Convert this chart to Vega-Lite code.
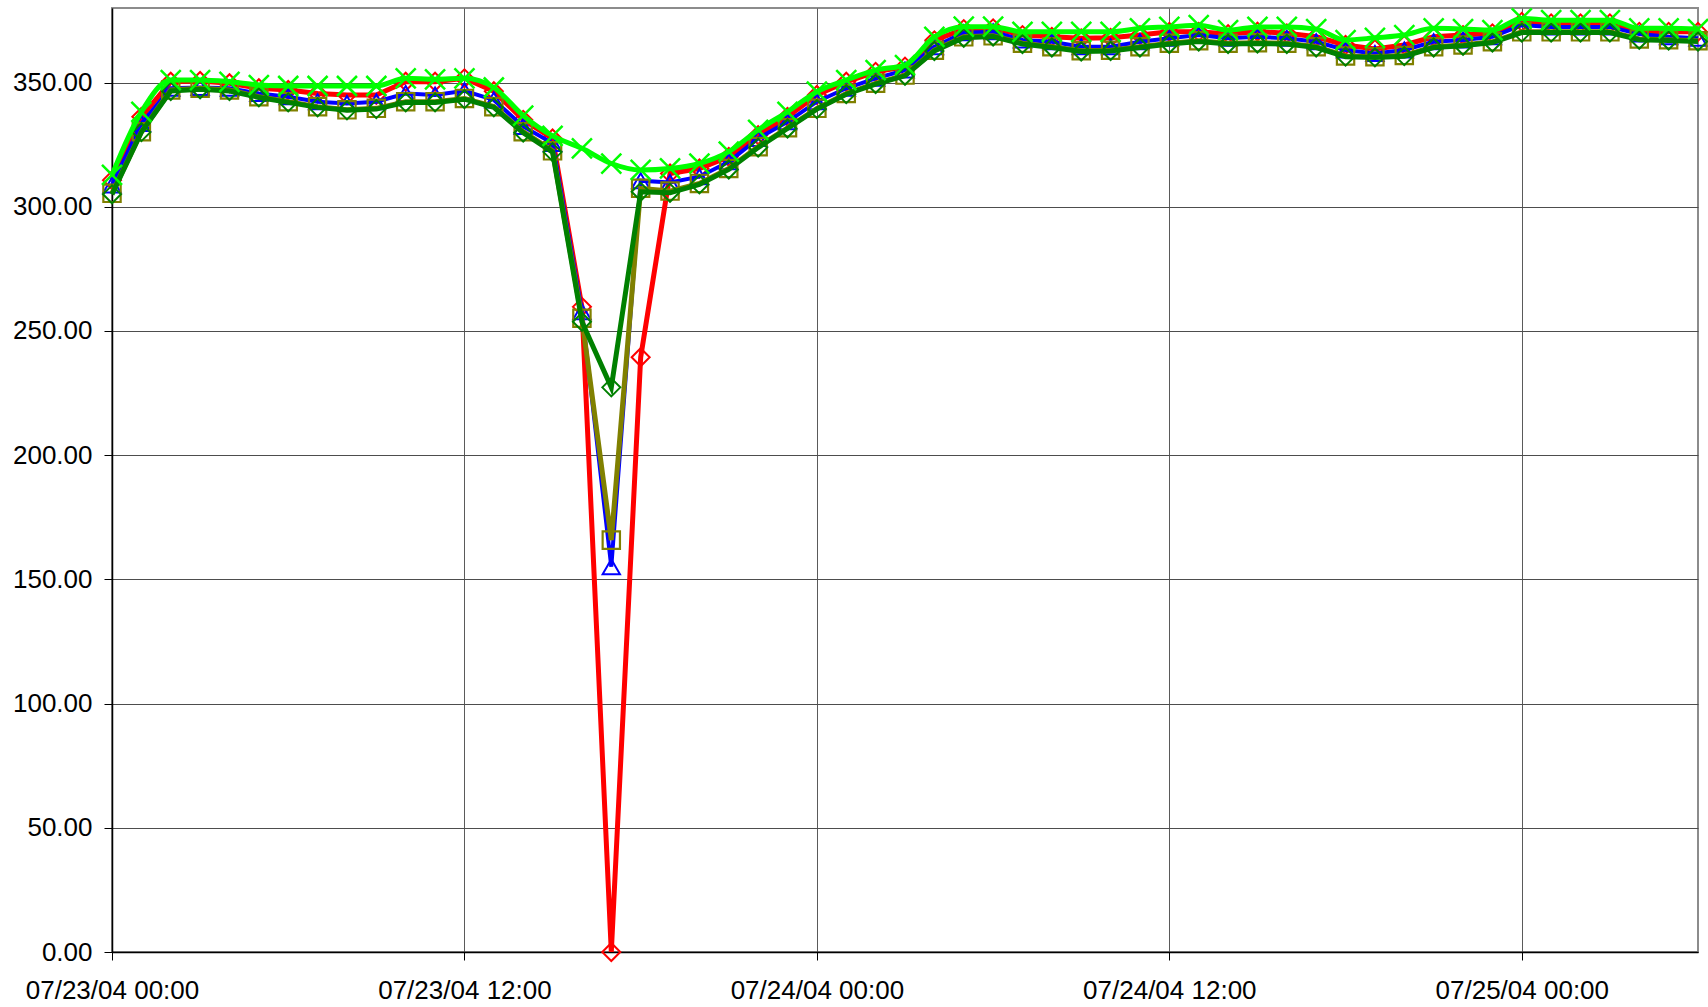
{
  "$schema": "https://vega.github.io/schema/vega-lite/v6.json",
  "width": 1586,
  "height": 944,
  "autosize": {"type": "none"},
  "padding": {"left": 112, "top": 8, "right": 10, "bottom": 55},
  "background": "white",
  "config": {
    "view": {"stroke": "#8c8c8c", "strokeWidth": 2},
    "axis": {
      "labelFont": "Liberation Sans",
      "labelFontSize": 26,
      "labelColor": "black",
      "tickColor": "black",
      "tickSize": 8,
      "domainColor": "black",
      "domainWidth": 1.5,
      "grid": true,
      "gridColor": "#4d4d4d",
      "gridWidth": 1,
      "title": null
    }
  },
  "data": {
    "values": [
      {"t": "2004-07-23T00:00:00", "G": 312.8, "R": 310.7, "B": 308.7, "O": 305.4, "D": 305.0},
      {"t": "2004-07-23T01:00:00", "G": 338.2, "R": 336.2, "B": 333.5, "O": 330.2, "D": 330.0},
      {"t": "2004-07-23T02:00:00", "G": 351.0, "R": 350.3, "B": 347.7, "O": 347.0, "D": 346.6},
      {"t": "2004-07-23T03:00:00", "G": 351.0, "R": 350.6, "B": 348.0, "O": 347.7, "D": 347.3},
      {"t": "2004-07-23T04:00:00", "G": 350.3, "R": 349.7, "B": 347.7, "O": 347.0, "D": 346.6},
      {"t": "2004-07-23T05:00:00", "G": 349.0, "R": 347.7, "B": 345.6, "O": 344.3, "D": 344.0},
      {"t": "2004-07-23T06:00:00", "G": 348.6, "R": 347.0, "B": 344.3, "O": 342.3, "D": 342.0},
      {"t": "2004-07-23T07:00:00", "G": 348.6, "R": 345.6, "B": 342.3, "O": 340.3, "D": 340.0},
      {"t": "2004-07-23T08:00:00", "G": 348.6, "R": 345.0, "B": 341.6, "O": 339.0, "D": 338.8},
      {"t": "2004-07-23T09:00:00", "G": 348.6, "R": 345.0, "B": 342.3, "O": 339.6, "D": 339.3},
      {"t": "2004-07-23T10:00:00", "G": 351.7, "R": 350.3, "B": 345.6, "O": 342.3, "D": 342.0},
      {"t": "2004-07-23T11:00:00", "G": 351.3, "R": 350.3, "B": 345.0, "O": 342.3, "D": 342.0},
      {"t": "2004-07-23T12:00:00", "G": 351.7, "R": 351.7, "B": 346.7, "O": 343.6, "D": 343.3},
      {"t": "2004-07-23T13:00:00", "G": 348.0, "R": 346.5, "B": 343.0, "O": 340.3, "D": 340.0},
      {"t": "2004-07-23T14:00:00", "G": 336.7, "R": 335.0, "B": 332.3, "O": 330.2, "D": 329.8},
      {"t": "2004-07-23T15:00:00", "G": 328.5, "R": 327.5, "B": 325.5, "O": 322.5, "D": 322.0},
      {"t": "2004-07-23T16:00:00", "G": 323.5, "R": 259.7, "B": 257.7, "O": 255.1, "D": 253.7},
      {"t": "2004-07-23T17:00:00", "G": 317.4, "R": 0.0, "B": 155.1, "O": 165.8, "D": 227.3},
      {"t": "2004-07-23T18:00:00", "G": 314.8, "R": 239.4, "B": 310.5, "O": 307.4, "D": 306.0},
      {"t": "2004-07-23T19:00:00", "G": 315.4, "R": 313.4, "B": 309.8, "O": 306.3, "D": 305.6},
      {"t": "2004-07-23T20:00:00", "G": 317.4, "R": 315.4, "B": 312.1, "O": 309.4, "D": 309.0},
      {"t": "2004-07-23T21:00:00", "G": 322.2, "R": 320.1, "B": 318.1, "O": 315.4, "D": 315.0},
      {"t": "2004-07-23T22:00:00", "G": 330.9, "R": 328.8, "B": 327.5, "O": 324.2, "D": 323.8},
      {"t": "2004-07-23T23:00:00", "G": 338.2, "R": 336.2, "B": 334.2, "O": 331.8, "D": 331.5},
      {"t": "2004-07-24T00:00:00", "G": 346.3, "R": 345.0, "B": 342.3, "O": 339.6, "D": 339.3},
      {"t": "2004-07-24T01:00:00", "G": 351.0, "R": 350.3, "B": 347.7, "O": 345.6, "D": 345.3},
      {"t": "2004-07-24T02:00:00", "G": 355.0, "R": 354.3, "B": 351.7, "O": 349.7, "D": 349.4},
      {"t": "2004-07-24T03:00:00", "G": 357.0, "R": 356.4, "B": 355.0, "O": 353.0, "D": 352.7},
      {"t": "2004-07-24T04:00:00", "G": 368.4, "R": 367.0, "B": 364.4, "O": 363.0, "D": 362.7},
      {"t": "2004-07-24T05:00:00", "G": 372.5, "R": 371.5, "B": 370.0, "O": 368.4, "D": 368.0},
      {"t": "2004-07-24T06:00:00", "G": 372.5, "R": 371.8, "B": 370.4, "O": 368.8, "D": 368.5},
      {"t": "2004-07-24T07:00:00", "G": 370.4, "R": 369.1, "B": 367.1, "O": 365.8, "D": 365.5},
      {"t": "2004-07-24T08:00:00", "G": 370.4, "R": 368.4, "B": 366.4, "O": 364.4, "D": 364.1},
      {"t": "2004-07-24T09:00:00", "G": 370.4, "R": 367.8, "B": 364.4, "O": 362.8, "D": 362.5},
      {"t": "2004-07-24T10:00:00", "G": 370.4, "R": 368.0, "B": 364.4, "O": 363.0, "D": 362.7},
      {"t": "2004-07-24T11:00:00", "G": 371.8, "R": 369.1, "B": 366.4, "O": 364.4, "D": 364.1},
      {"t": "2004-07-24T12:00:00", "G": 372.4, "R": 370.4, "B": 367.8, "O": 365.8, "D": 365.5},
      {"t": "2004-07-24T13:00:00", "G": 373.1, "R": 370.4, "B": 369.1, "O": 366.8, "D": 366.5},
      {"t": "2004-07-24T14:00:00", "G": 371.1, "R": 369.5, "B": 367.8, "O": 365.8, "D": 365.5},
      {"t": "2004-07-24T15:00:00", "G": 372.4, "R": 370.5, "B": 368.4, "O": 366.0, "D": 365.7},
      {"t": "2004-07-24T16:00:00", "G": 372.4, "R": 369.8, "B": 367.8, "O": 365.8, "D": 365.5},
      {"t": "2004-07-24T17:00:00", "G": 371.5, "R": 368.4, "B": 366.4, "O": 364.4, "D": 364.1},
      {"t": "2004-07-24T18:00:00", "G": 367.1, "R": 365.1, "B": 363.1, "O": 360.7, "D": 360.4},
      {"t": "2004-07-24T19:00:00", "G": 368.0, "R": 363.5, "B": 361.7, "O": 360.4, "D": 360.1},
      {"t": "2004-07-24T20:00:00", "G": 369.1, "R": 365.1, "B": 363.1, "O": 360.9, "D": 360.6},
      {"t": "2004-07-24T21:00:00", "G": 371.8, "R": 368.4, "B": 366.4, "O": 364.4, "D": 364.1},
      {"t": "2004-07-24T22:00:00", "G": 371.5, "R": 369.1, "B": 367.1, "O": 365.1, "D": 364.8},
      {"t": "2004-07-24T23:00:00", "G": 371.1, "R": 369.8, "B": 368.4, "O": 366.4, "D": 366.1},
      {"t": "2004-07-25T00:00:00", "G": 375.8, "R": 374.4, "B": 373.1, "O": 370.4, "D": 370.1},
      {"t": "2004-07-25T01:00:00", "G": 375.1, "R": 373.8, "B": 372.4, "O": 370.4, "D": 370.1},
      {"t": "2004-07-25T02:00:00", "G": 375.1, "R": 373.8, "B": 372.4, "O": 370.4, "D": 370.1},
      {"t": "2004-07-25T03:00:00", "G": 375.1, "R": 373.8, "B": 372.4, "O": 370.4, "D": 370.1},
      {"t": "2004-07-25T04:00:00", "G": 371.8, "R": 370.4, "B": 369.5, "O": 367.5, "D": 367.2},
      {"t": "2004-07-25T05:00:00", "G": 371.8, "R": 370.4, "B": 368.4, "O": 367.2, "D": 366.9},
      {"t": "2004-07-25T06:00:00", "G": 371.5, "R": 370.4, "B": 367.8, "O": 366.8, "D": 366.5}
    ]
  },
  "encoding": {
    "x": {
      "field": "t",
      "type": "temporal",
      "scale": {
        "domain": [
          {"year": 2004, "month": 7, "date": 23, "hours": 0},
          {"year": 2004, "month": 7, "date": 25, "hours": 6}
        ],
        "nice": false
      },
      "axis": {
        "values": [
          {"year": 2004, "month": 7, "date": 23, "hours": 0},
          {"year": 2004, "month": 7, "date": 23, "hours": 12},
          {"year": 2004, "month": 7, "date": 24, "hours": 0},
          {"year": 2004, "month": 7, "date": 24, "hours": 12},
          {"year": 2004, "month": 7, "date": 25, "hours": 0}
        ],
        "format": "%m/%d/%y %H:%M",
        "labelPadding": 17,
        "labelFlush": false,
        "labelOverlap": false,
        "gridColor": "#5a5a5a"
      }
    }
  },
  "layer": [
    {
      "mark": {"type": "line", "color": "#FF0000", "strokeWidth": 5},
      "encoding": {
        "y": {"field": "R", "type": "quantitative", "scale": {"domain": [0, 380], "nice": false},
          "axis": {"values": [0, 50, 100, 150, 200, 250, 300, 350], "format": ".2f", "labelPadding": 12}}
      }
    },
    {
      "mark": {"type": "point", "shape": "diamond", "size": 324, "filled": false, "stroke": "#FF0000", "strokeWidth": 2, "opacity": 1},
      "encoding": {"y": {"field": "R", "type": "quantitative"}}
    },
    {
      "mark": {"type": "line", "color": "#0000FF", "strokeWidth": 4},
      "encoding": {"y": {"field": "B", "type": "quantitative"}}
    },
    {
      "mark": {"type": "point", "shape": "triangle-up", "size": 300, "filled": false, "stroke": "#0000FF", "strokeWidth": 2, "opacity": 1},
      "encoding": {"y": {"field": "B", "type": "quantitative"}}
    },
    {
      "mark": {"type": "line", "color": "#808000", "strokeWidth": 5},
      "encoding": {"y": {"field": "O", "type": "quantitative"}}
    },
    {
      "mark": {"type": "point", "shape": "square", "size": 300, "filled": false, "stroke": "#808000", "strokeWidth": 2.2, "opacity": 1},
      "encoding": {"y": {"field": "O", "type": "quantitative"}}
    },
    {
      "mark": {"type": "line", "color": "#008000", "strokeWidth": 5},
      "encoding": {"y": {"field": "D", "type": "quantitative"}}
    },
    {
      "mark": {"type": "point", "shape": "diamond", "size": 324, "filled": false, "stroke": "#008000", "strokeWidth": 2, "opacity": 1},
      "encoding": {"y": {"field": "D", "type": "quantitative"}}
    },
    {
      "mark": {"type": "line", "color": "#00FF00", "strokeWidth": 5, "interpolate": "monotone"},
      "encoding": {"y": {"field": "G", "type": "quantitative"}}
    },
    {
      "mark": {"type": "point", "shape": "M-1,-1L1,1M-1,1L1,-1", "size": 400, "filled": false, "stroke": "#00FF00", "strokeWidth": 2.5, "opacity": 1},
      "encoding": {"y": {"field": "G", "type": "quantitative"}}
    }
  ]
}
